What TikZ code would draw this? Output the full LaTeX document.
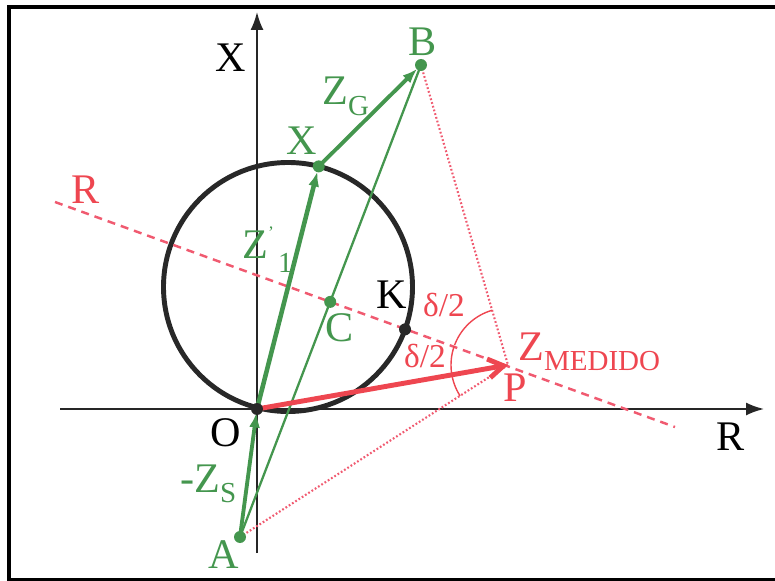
\documentclass[tikz,border=0pt]{standalone}
\usepackage{fontspec}
\setmainfont{Liberation Serif}
\usetikzlibrary{arrows.meta, calc}

\definecolor{zgreen}{RGB}{68,150,78}
\definecolor{zred}{RGB}{238,70,80}
\definecolor{zpink}{RGB}{240,90,112}
\definecolor{zgray}{RGB}{40,40,40}

\newcommand{\lowsub}[2][-6pt]{\raisebox{#1}{\fontsize{16.5}{17}\selectfont #2}}

\begin{document}
\begin{tikzpicture}[
                x=0.02cm, y=0.02cm,
                dot/.style={circle, fill=#1, inner sep=0pt, minimum size=0.24cm},
                lbl/.style={inner sep=0pt, text=#1, font=\fontsize{24}{26}\selectfont},
                angl/.style={inner sep=0pt, text=zred, font=\fontsize{19}{21}\selectfont},
                axis/.style={-{Latex[length=0.36cm, width=0.26cm]}, line width=1.1pt, black!85},
                garrow/.style={-{Latex[length=0.3cm, width=0.22cm]}, zgreen, line width=#1},
                rarrow/.style={-{Straight Barb[length=0.3cm, width=0.38cm]}, zred, line width=2.8pt},
                rdash/.style={zpink, line width=1.4pt, dash pattern=on 0.16cm off 0.12cm},
                rdot/.style={zpink, line width=1.2pt, dash pattern=on 1pt off 1.2pt},
                arcline/.style={zred, line width=0.8pt}
            ]
                \useasboundingbox (0,0) rectangle (775,-581);
                \draw[line width=2.1pt] (775,-6.7) -- (8.7,-6.7) -- (8.7,-579.5) -- (775,-579.5);

                \coordinate (O) at (257,-409);
                \coordinate (A) at (240,-537);
                \coordinate (B) at (421,-65);
                \coordinate (P) at (508,-365);
                \coordinate (ctr) at (288,-287);
                \coordinate (X) at ($(ctr)+(75.7:124.5)$);
                \coordinate (K) at ($(ctr)+(-19.9:124.5)$);
                \coordinate (Rs) at (55,-202);
                \coordinate (Re) at (675,-427);
                \coordinate (C) at (intersection of A--B and Rs--Re);
                \coordinate (xbot) at (257,-553);
                \coordinate (xtop) at (257,-12);
                \coordinate (rleft) at (60,-409);
                \coordinate (rright) at (764,-409);

                \draw[axis] (xbot) -- (xtop);
                \draw[axis] (rleft) -- (rright);
                \draw[zgray, line width=2.8pt] (ctr) circle[radius=124.5];
                \draw[rdash] (Rs) -- (Re);
                \draw[rdot] (B) -- (P);
                \draw[rdot] (A) -- (P);
                \draw[arcline] ($(P)+(106.2:57)$) arc[start angle=106.2, end angle=159.6, radius=57];
                \draw[arcline] ($(P)+(160.8:57)$) arc[start angle=160.8, end angle=212.7, radius=57];

                \draw[zgreen, line width=1.3pt] (A) -- (B);
                \draw[garrow=2.2pt, shorten >=2pt] (A) -- (O);
                \draw[garrow=2.6pt, shorten >=3pt] (O) -- (X);
                \draw[garrow=2.2pt, shorten >=3pt] (X) -- (B);
                \draw[rarrow] (O) -- (P);

                \node[dot=zgray] (dO) at (O) {};
                \node[dot=zgray] (dK) at (K) {};
                \node[dot=zgreen] (dA) at (A) {};
                \node[dot=zgreen] (dB) at (B) {};
                \node[dot=zgreen] (dX) at (X) {};
                \node[dot=zgreen] (dC) at (C) {};

                \node[lbl=black] (labXaxis) at (231,-58) {X};
                \node[lbl=black] (labRaxis) at (731,-437) {R};
                \node[lbl=black] (labO) at (226,-433) {O};
                \node[lbl=black] (labK) at (392,-295) {K};
                \node[lbl=zgreen] (labA) at (224,-555) {A};
                \node[lbl=zgreen] (labB) at (423,-42) {B};
                \node[lbl=zgreen] (labX) at (302,-141) {X};
                \node[lbl=zgreen] (labC) at (340,-328) {C};
                \node[lbl=zgreen, anchor=base west] (labZG) at (322,-105) {Z\lowsub{G}};
                \node[lbl=zgreen, anchor=base west] (labZS) at (180,-492) {-Z\lowsub{S}};
                \node[lbl=zgreen, anchor=base west] (labZ1) at (242,-258) {Z\rlap{\raisebox{11pt}{\fontsize{10}{10}\selectfont '}}\hspace{0.2cm}\lowsub[-8pt]{1}};
                \node[lbl=zred] (labR) at (86,-190) {R};
                \node[lbl=zred] (labP) at (515,-388) {P};
                \node[lbl=zred, anchor=base west] (labZM) at (518,-360) {Z\lowsub{MEDIDO}};
                \node[angl] (labDup) at (444,-305) {δ/2};
                \node[angl] (labDlow) at (425,-356) {δ/2};
            \end{tikzpicture}
\end{document}
